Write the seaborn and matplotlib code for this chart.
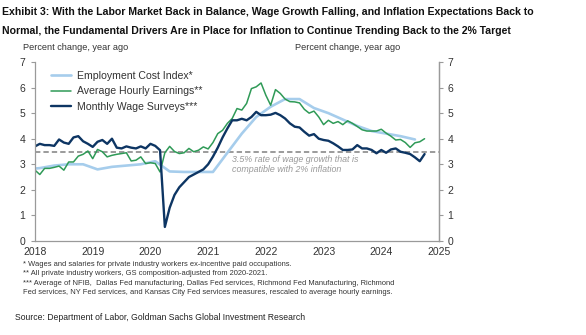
import numpy as np
import pandas as pd
import matplotlib
matplotlib.use("Agg")
import matplotlib.pyplot as plt
import seaborn as sns
from matplotlib import font_manager as fm

# ---------------- data ----------------
title_lines = [
    "Exhibit 3: With the Labor Market Back in Balance, Wage Growth Falling, and Inflation Expectations Back to",
    "Normal, the Fundamental Drivers Are in Place for Inflation to Continue Trending Back to the 2% Target",
]
y_label = "Percent change, year ago"
series_names = ["Employment Cost Index*", "Average Hourly Earnings**", "Monthly Wage Surveys***"]
year_ticks = [2018, 2019, 2020, 2021, 2022, 2023, 2024, 2025]
y_ticks = [0, 1, 2, 3, 4, 5, 6, 7]
threshold = 3.5
threshold_note = "3.5% rate of wage growth that is\ncompatible with 2% inflation"
footnotes = [
    "* Wages and salaries for private industry workers ex-incentive paid occupations.",
    "** All private industry workers, GS composition-adjusted from 2020-2021.",
    "*** Average of NFIB,  Dallas Fed manufacturing, Dallas Fed services, Richmond Fed Manufacturing, Richmond",
    "Fed services, NY Fed services, and Kansas City Fed services measures, rescaled to average hourly earnings.",
]
source = "Source: Department of Labor, Goldman Sachs Global Investment Research"

# Monthly, Jan 2018 .. Oct 2024
ahe = [
    2.77, 2.60, 2.84, 2.84, 2.88, 2.93, 2.77, 3.09, 3.09, 3.32, 3.39, 3.52,   # 2018
    3.22, 3.58, 3.49, 3.29, 3.35, 3.39, 3.42, 3.45, 3.13, 3.16, 3.29, 3.03,   # 2019
    3.06, 3.03, 2.70, 3.45, 3.70, 3.50, 3.42, 3.45, 3.62, 3.49, 3.55, 3.68,   # 2020
    3.60, 3.85, 4.20, 4.33, 4.60, 4.79, 5.18, 5.12, 5.38, 5.96, 6.03, 6.18,   # 2021
    5.70, 5.31, 5.92, 5.77, 5.55, 5.45, 5.44, 5.40, 5.15, 5.00, 5.08, 4.85,   # 2022
    4.55, 4.72, 4.60, 4.67, 4.55, 4.70, 4.60, 4.48, 4.35, 4.30, 4.30, 4.30,   # 2023
    4.37, 4.22, 4.10, 3.95, 3.97, 3.85, 3.66, 3.84, 3.88, 4.00,               # 2024
]
surveys = [
    3.70, 3.80, 3.75, 3.75, 3.72, 3.97, 3.85, 3.80, 4.05, 4.10, 3.90, 3.80,   # 2018
    3.68, 3.88, 3.95, 3.80, 4.00, 3.65, 3.62, 3.70, 3.65, 3.62, 3.70, 3.62,   # 2019
    3.80, 3.72, 3.55, 0.55, 1.30, 1.80, 2.10, 2.30, 2.50, 2.60, 2.70, 2.80,   # 2020
    3.00, 3.30, 3.65, 4.05, 4.40, 4.72, 4.72, 4.78, 4.72, 4.85, 5.05, 4.92,   # 2021
    4.92, 4.94, 5.01, 4.92, 4.79, 4.60, 4.47, 4.44, 4.27, 4.12, 4.18, 4.00,   # 2022
    3.95, 3.92, 3.82, 3.70, 3.56, 3.56, 3.58, 3.75, 3.62, 3.62, 3.56, 3.43,   # 2023
    3.56, 3.45, 3.58, 3.62, 3.49, 3.45, 3.40, 3.27, 3.12, 3.40,               # 2024
]
# Quarterly, Q4 2017 .. Q3 2024
eci = [
    2.80,
    2.85, 2.95, 3.00, 3.00,
    2.80, 2.90, 2.95, 3.00,
    3.12, 2.72, 2.70, 2.70,
    2.70, 3.45, 4.20, 4.85,
    5.25, 5.55, 5.55, 5.20,
    5.00, 4.75, 4.50, 4.30,
    4.20, 4.10, 3.97,
]

# ---------------- fonts ----------------
def has_font(name):
    try:
        fm.findfont(fm.FontProperties(family=name), fallback_to_default=False)
        return True
    except Exception:
        return False

narrow = "Liberation Sans Narrow" if has_font("Liberation Sans Narrow") else None
base = "Liberation Sans" if has_font("Liberation Sans") else "DejaVu Sans"

sns.set_theme(style="white")
plt.rcParams["font.family"] = [base, "DejaVu Sans"]

# ---------------- frames ----------------
month_x = 2018 + np.arange(len(ahe)) / 12.0
quarter_x = 2017.75 + np.arange(len(eci)) * 0.25 + 1.0 / 12.0
df_m = pd.DataFrame({"x": month_x, "ahe": ahe, "surveys": surveys})
df_q = pd.DataFrame({"x": quarter_x, "eci": eci})

c_eci = "#a6cdec"
c_ahe = "#2f9a57"
c_mws = "#0d3563"
c_axis = "#9a9a9a"
c_text = "#333333"

fig = plt.figure(figsize=(5.86, 3.35), dpi=100)
ax = fig.add_axes([35 / 586, 1 - 241 / 335, (439 - 35) / 586, (241 - 62) / 335])

sns.lineplot(data=df_q, x="x", y="eci", ax=ax, color=c_eci, lw=1.9, label=series_names[0])
sns.lineplot(data=df_m, x="x", y="ahe", ax=ax, color=c_ahe, lw=1.1, label=series_names[1])
sns.lineplot(data=df_m, x="x", y="surveys", ax=ax, color=c_mws, lw=1.7, label=series_names[2])
ax.axhline(threshold, color="#808080", lw=1.1, dashes=(3.5, 2), zorder=1)

ax.set_xlim(year_ticks[0], year_ticks[-1])
ax.set_ylim(y_ticks[0], y_ticks[-1])
ax.set_xticks(year_ticks)
ax.set_yticks(y_ticks)
ax.set_xlabel("")
ax.set_ylabel("")
ax.spines["top"].set_visible(False)
for s in ["left", "right", "bottom"]:
    ax.spines[s].set_color(c_axis)
    ax.spines[s].set_linewidth(0.9)
ax.tick_params(axis="both", which="both", colors=c_axis, labelcolor=c_text,
               labelsize=7.5, length=3, width=0.8, direction="out", pad=4)
ax.tick_params(axis="x", direction="inout", length=4, pad=2)

ax2 = ax.twinx()
ax2.set_ylim(y_ticks[0], y_ticks[-1])
ax2.set_yticks(y_ticks)
for s in ["top", "left", "bottom"]:
    ax2.spines[s].set_visible(False)
ax2.spines["right"].set_color(c_axis)
ax2.spines["right"].set_linewidth(0.9)
ax2.tick_params(axis="y", colors=c_axis, labelcolor=c_text, labelsize=7.5,
                length=3, width=0.8, direction="out", pad=3)
ax2.grid(False)
ax.grid(False)

leg = ax.legend(loc="upper left", bbox_to_anchor=(0.025, 0.985), frameon=False,
                fontsize=7.6, handlelength=1.9, handletextpad=0.5,
                labelspacing=0.5, borderaxespad=0.2)
for t in leg.get_texts():
    t.set_color(c_text)

ax.text(2021.42, 3.38, threshold_note, fontsize=6.4, style="italic",
        color="#999999", va="top", ha="left", linespacing=1.15)

# headers
fig.text(23 / 586, 1 - 47 / 335, y_label, fontsize=6.6, color=c_text, va="center", ha="left")
fig.text(400 / 586, 1 - 47 / 335, y_label, fontsize=6.6, color=c_text, va="center", ha="right")

tfam = [narrow, base, "DejaVu Sans"] if narrow else [base, "DejaVu Sans"]
tsize = 9.2 if narrow else 7.6
fig.text(2 / 586, 1 - 12 / 335, title_lines[0], fontsize=tsize, fontweight="bold",
         family=tfam, color="#111111", va="center", ha="left")
fig.text(2 / 586, 1 - 31 / 335, title_lines[1], fontsize=tsize, fontweight="bold",
         family=tfam, color="#111111", va="center", ha="left")

for i, line in enumerate(footnotes):
    fig.text(23 / 586, 1 - (264 + i * 9.6) / 335, line, fontsize=5.45,
             color=c_text, va="center", ha="left")

fig.text(15 / 586, 1 - 318 / 335, source, fontsize=7.3 if narrow else 6.2,
         family=tfam, color="#222222", va="center", ha="left")

fig.savefig("out.png", dpi=100)
